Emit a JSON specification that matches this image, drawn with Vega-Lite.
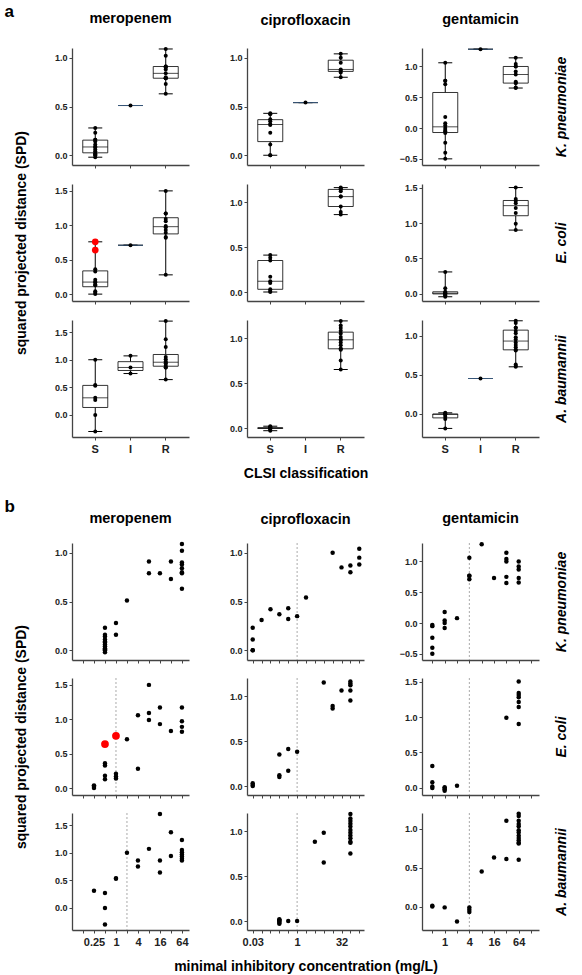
{
"$schema":"https://vega.github.io/schema/vega-lite/v6.json",
"padding":{"left":4,"top":3,"right":4,"bottom":1},
"data":{"name":"d"},
"datasets":{
"d":[
{"kind":"bp","sp":"Kp","drug":"CIP","bp":1},
{"sp":"Kp","drug":"MEM","mic":0.5,"spd":0.23,"cls":"S"},{"sp":"Kp","drug":"MEM","mic":0.5,"spd":0.16,"cls":"S"},{"sp":"Kp","drug":"MEM","mic":0.5,"spd":0.14,"cls":"S"},{"sp":"Kp","drug":"MEM","mic":0.5,"spd":0.11,"cls":"S"},{"sp":"Kp","drug":"MEM","mic":0.5,"spd":0.09,"cls":"S"},{"sp":"Kp","drug":"MEM","mic":0.5,"spd":0.08,"cls":"S"},{"sp":"Kp","drug":"MEM","mic":0.5,"spd":0.06,"cls":"S"},{"sp":"Kp","drug":"MEM","mic":0.5,"spd":0.04,"cls":"S"},{"sp":"Kp","drug":"MEM","mic":0.5,"spd":0.02,"cls":"S"},{"sp":"Kp","drug":"MEM","mic":0.5,"spd":0.01,"cls":"S"},{"sp":"Kp","drug":"MEM","mic":0.5,"spd":0.0,"cls":"S"},{"sp":"Kp","drug":"MEM","mic":0.5,"spd":-0.02,"cls":"S"},
{"sp":"Kp","drug":"MEM","mic":1,"spd":0.28,"cls":"S"},{"sp":"Kp","drug":"MEM","mic":1,"spd":0.16,"cls":"S"},
{"sp":"Kp","drug":"MEM","mic":2,"spd":0.51,"cls":"I"},
{"sp":"Kp","drug":"MEM","mic":8,"spd":0.91,"cls":"R"},{"sp":"Kp","drug":"MEM","mic":8,"spd":0.79,"cls":"R"},{"sp":"Kp","drug":"MEM","mic":16,"spd":0.79,"cls":"R"},{"sp":"Kp","drug":"MEM","mic":32,"spd":0.91,"cls":"R"},{"sp":"Kp","drug":"MEM","mic":32,"spd":0.73,"cls":"R"},
{"sp":"Kp","drug":"MEM","mic":64,"spd":1.09,"cls":"R"},{"sp":"Kp","drug":"MEM","mic":64,"spd":1.02,"cls":"R"},{"sp":"Kp","drug":"MEM","mic":64,"spd":0.9,"cls":"R"},{"sp":"Kp","drug":"MEM","mic":64,"spd":0.88,"cls":"R"},{"sp":"Kp","drug":"MEM","mic":64,"spd":0.84,"cls":"R"},{"sp":"Kp","drug":"MEM","mic":64,"spd":0.8,"cls":"R"},{"sp":"Kp","drug":"MEM","mic":64,"spd":0.79,"cls":"R"},{"sp":"Kp","drug":"MEM","mic":64,"spd":0.63,"cls":"R"},
{"sp":"Kp","drug":"CIP","mic":0.03125,"spd":0.23,"cls":"S"},{"sp":"Kp","drug":"CIP","mic":0.03125,"spd":0.11,"cls":"S"},{"sp":"Kp","drug":"CIP","mic":0.03125,"spd":0.0,"cls":"S"},{"sp":"Kp","drug":"CIP","mic":0.03125,"spd":0.0,"cls":"S"},{"sp":"Kp","drug":"CIP","mic":0.0625,"spd":0.31,"cls":"S"},{"sp":"Kp","drug":"CIP","mic":0.125,"spd":0.42,"cls":"S"},{"sp":"Kp","drug":"CIP","mic":0.25,"spd":0.37,"cls":"S"},{"sp":"Kp","drug":"CIP","mic":0.5,"spd":0.43,"cls":"S"},{"sp":"Kp","drug":"CIP","mic":0.5,"spd":0.32,"cls":"S"},{"sp":"Kp","drug":"CIP","mic":1,"spd":0.35,"cls":"S"},
{"sp":"Kp","drug":"CIP","mic":2,"spd":0.54,"cls":"I"},
{"sp":"Kp","drug":"CIP","mic":16,"spd":1.0,"cls":"R"},{"sp":"Kp","drug":"CIP","mic":32,"spd":0.85,"cls":"R"},{"sp":"Kp","drug":"CIP","mic":64,"spd":0.87,"cls":"R"},{"sp":"Kp","drug":"CIP","mic":64,"spd":0.8,"cls":"R"},{"sp":"Kp","drug":"CIP","mic":128,"spd":1.04,"cls":"R"},{"sp":"Kp","drug":"CIP","mic":128,"spd":0.95,"cls":"R"},{"sp":"Kp","drug":"CIP","mic":128,"spd":0.88,"cls":"R"},
{"sp":"Kp","drug":"GEN","mic":0.5,"spd":-0.03,"cls":"S"},{"sp":"Kp","drug":"GEN","mic":0.5,"spd":-0.05,"cls":"S"},{"sp":"Kp","drug":"GEN","mic":0.5,"spd":-0.24,"cls":"S"},{"sp":"Kp","drug":"GEN","mic":0.5,"spd":-0.4,"cls":"S"},{"sp":"Kp","drug":"GEN","mic":0.5,"spd":-0.5,"cls":"S"},
{"sp":"Kp","drug":"GEN","mic":1,"spd":0.18,"cls":"S"},{"sp":"Kp","drug":"GEN","mic":1,"spd":0.04,"cls":"S"},{"sp":"Kp","drug":"GEN","mic":1,"spd":0.0,"cls":"S"},{"sp":"Kp","drug":"GEN","mic":1,"spd":-0.08,"cls":"S"},{"sp":"Kp","drug":"GEN","mic":2,"spd":0.08,"cls":"S"},
{"sp":"Kp","drug":"GEN","mic":4,"spd":1.06,"cls":"S"},{"sp":"Kp","drug":"GEN","mic":4,"spd":0.77,"cls":"S"},{"sp":"Kp","drug":"GEN","mic":4,"spd":0.77,"cls":"S"},{"sp":"Kp","drug":"GEN","mic":4,"spd":0.71,"cls":"S"},
{"sp":"Kp","drug":"GEN","mic":8,"spd":1.28,"cls":"I"},
{"sp":"Kp","drug":"GEN","mic":16,"spd":0.73,"cls":"R"},{"sp":"Kp","drug":"GEN","mic":32,"spd":1.14,"cls":"R"},{"sp":"Kp","drug":"GEN","mic":32,"spd":1.04,"cls":"R"},{"sp":"Kp","drug":"GEN","mic":32,"spd":1.0,"cls":"R"},{"sp":"Kp","drug":"GEN","mic":32,"spd":0.75,"cls":"R"},{"sp":"Kp","drug":"GEN","mic":32,"spd":0.65,"cls":"R"},
{"sp":"Kp","drug":"GEN","mic":64,"spd":1.0,"cls":"R"},{"sp":"Kp","drug":"GEN","mic":64,"spd":0.92,"cls":"R"},{"sp":"Kp","drug":"GEN","mic":64,"spd":0.87,"cls":"R"},{"sp":"Kp","drug":"GEN","mic":64,"spd":0.73,"cls":"R"},{"sp":"Kp","drug":"GEN","mic":64,"spd":0.66,"cls":"R"},
{"sp":"Ec","drug":"MEM","mic":0.25,"spd":0.04,"cls":"S"},{"sp":"Ec","drug":"MEM","mic":0.25,"spd":0.02,"cls":"S"},{"sp":"Ec","drug":"MEM","mic":0.25,"spd":0.0,"cls":"S"},
{"sp":"Ec","drug":"MEM","mic":0.5,"spd":0.64,"cls":"S","hl":true},{"sp":"Ec","drug":"MEM","mic":0.5,"spd":0.36,"cls":"S"},{"sp":"Ec","drug":"MEM","mic":0.5,"spd":0.33,"cls":"S"},{"sp":"Ec","drug":"MEM","mic":0.5,"spd":0.18,"cls":"S"},{"sp":"Ec","drug":"MEM","mic":0.5,"spd":0.13,"cls":"S"},
{"sp":"Ec","drug":"MEM","mic":1,"spd":0.76,"cls":"S","hl":true},{"sp":"Ec","drug":"MEM","mic":1,"spd":0.21,"cls":"S"},{"sp":"Ec","drug":"MEM","mic":1,"spd":0.17,"cls":"S"},{"sp":"Ec","drug":"MEM","mic":1,"spd":0.14,"cls":"S"},
{"sp":"Ec","drug":"MEM","mic":2,"spd":0.71,"cls":"I"},
{"sp":"Ec","drug":"MEM","mic":4,"spd":1.06,"cls":"R"},{"sp":"Ec","drug":"MEM","mic":4,"spd":0.28,"cls":"R"},{"sp":"Ec","drug":"MEM","mic":8,"spd":1.5,"cls":"R"},{"sp":"Ec","drug":"MEM","mic":8,"spd":1.09,"cls":"R"},{"sp":"Ec","drug":"MEM","mic":8,"spd":0.99,"cls":"R"},{"sp":"Ec","drug":"MEM","mic":16,"spd":1.17,"cls":"R"},{"sp":"Ec","drug":"MEM","mic":16,"spd":0.93,"cls":"R"},{"sp":"Ec","drug":"MEM","mic":32,"spd":0.83,"cls":"R"},
{"sp":"Ec","drug":"MEM","mic":64,"spd":1.17,"cls":"R"},{"sp":"Ec","drug":"MEM","mic":64,"spd":0.97,"cls":"R"},{"sp":"Ec","drug":"MEM","mic":64,"spd":0.89,"cls":"R"},{"sp":"Ec","drug":"MEM","mic":64,"spd":0.82,"cls":"R"},
{"sp":"Ec","drug":"CIP","mic":0.03125,"spd":0.03,"cls":"S"},{"sp":"Ec","drug":"CIP","mic":0.03125,"spd":0.01,"cls":"S"},{"sp":"Ec","drug":"CIP","mic":0.03125,"spd":0.0,"cls":"S"},{"sp":"Ec","drug":"CIP","mic":0.25,"spd":0.35,"cls":"S"},{"sp":"Ec","drug":"CIP","mic":0.25,"spd":0.12,"cls":"S"},{"sp":"Ec","drug":"CIP","mic":0.25,"spd":0.1,"cls":"S"},{"sp":"Ec","drug":"CIP","mic":0.5,"spd":0.41,"cls":"S"},{"sp":"Ec","drug":"CIP","mic":0.5,"spd":0.17,"cls":"S"},{"sp":"Ec","drug":"CIP","mic":1,"spd":0.38,"cls":"S"},
{"sp":"Ec","drug":"CIP","mic":8,"spd":1.15,"cls":"R"},{"sp":"Ec","drug":"CIP","mic":16,"spd":0.89,"cls":"R"},{"sp":"Ec","drug":"CIP","mic":16,"spd":0.86,"cls":"R"},{"sp":"Ec","drug":"CIP","mic":32,"spd":1.06,"cls":"R"},{"sp":"Ec","drug":"CIP","mic":64,"spd":1.16,"cls":"R"},{"sp":"Ec","drug":"CIP","mic":64,"spd":1.14,"cls":"R"},{"sp":"Ec","drug":"CIP","mic":64,"spd":1.12,"cls":"R"},{"sp":"Ec","drug":"CIP","mic":64,"spd":1.06,"cls":"R"},{"sp":"Ec","drug":"CIP","mic":64,"spd":0.95,"cls":"R"},
{"sp":"Ec","drug":"GEN","mic":0.5,"spd":0.31,"cls":"S"},{"sp":"Ec","drug":"GEN","mic":0.5,"spd":0.08,"cls":"S"},{"sp":"Ec","drug":"GEN","mic":0.5,"spd":0.02,"cls":"S"},{"sp":"Ec","drug":"GEN","mic":0.5,"spd":0.0,"cls":"S"},{"sp":"Ec","drug":"GEN","mic":1,"spd":0.01,"cls":"S"},{"sp":"Ec","drug":"GEN","mic":1,"spd":0.0,"cls":"S"},{"sp":"Ec","drug":"GEN","mic":1,"spd":-0.02,"cls":"S"},{"sp":"Ec","drug":"GEN","mic":1,"spd":-0.04,"cls":"S"},{"sp":"Ec","drug":"GEN","mic":2,"spd":0.03,"cls":"S"},
{"sp":"Ec","drug":"GEN","mic":32,"spd":0.99,"cls":"R"},{"sp":"Ec","drug":"GEN","mic":64,"spd":1.5,"cls":"R"},{"sp":"Ec","drug":"GEN","mic":64,"spd":1.34,"cls":"R"},{"sp":"Ec","drug":"GEN","mic":64,"spd":1.31,"cls":"R"},{"sp":"Ec","drug":"GEN","mic":64,"spd":1.28,"cls":"R"},{"sp":"Ec","drug":"GEN","mic":64,"spd":1.21,"cls":"R"},{"sp":"Ec","drug":"GEN","mic":64,"spd":1.14,"cls":"R"},{"sp":"Ec","drug":"GEN","mic":64,"spd":0.9,"cls":"R"},
{"sp":"Ab","drug":"MEM","mic":0.25,"spd":0.31,"cls":"S"},{"sp":"Ab","drug":"MEM","mic":0.5,"spd":0.27,"cls":"S"},{"sp":"Ab","drug":"MEM","mic":0.5,"spd":0.0,"cls":"S"},{"sp":"Ab","drug":"MEM","mic":0.5,"spd":-0.3,"cls":"S"},{"sp":"Ab","drug":"MEM","mic":1,"spd":0.54,"cls":"S"},{"sp":"Ab","drug":"MEM","mic":1,"spd":0.53,"cls":"S"},{"sp":"Ab","drug":"MEM","mic":2,"spd":1.0,"cls":"S"},
{"sp":"Ab","drug":"MEM","mic":4,"spd":0.86,"cls":"I"},{"sp":"Ab","drug":"MEM","mic":4,"spd":0.75,"cls":"I"},{"sp":"Ab","drug":"MEM","mic":8,"spd":1.07,"cls":"I"},
{"sp":"Ab","drug":"MEM","mic":16,"spd":1.7,"cls":"R"},{"sp":"Ab","drug":"MEM","mic":16,"spd":0.86,"cls":"R"},{"sp":"Ab","drug":"MEM","mic":16,"spd":0.64,"cls":"R"},{"sp":"Ab","drug":"MEM","mic":32,"spd":1.37,"cls":"R"},{"sp":"Ab","drug":"MEM","mic":32,"spd":0.94,"cls":"R"},
{"sp":"Ab","drug":"MEM","mic":64,"spd":1.23,"cls":"R"},{"sp":"Ab","drug":"MEM","mic":64,"spd":1.05,"cls":"R"},{"sp":"Ab","drug":"MEM","mic":64,"spd":1.01,"cls":"R"},{"sp":"Ab","drug":"MEM","mic":64,"spd":0.97,"cls":"R"},{"sp":"Ab","drug":"MEM","mic":64,"spd":0.93,"cls":"R"},{"sp":"Ab","drug":"MEM","mic":64,"spd":0.89,"cls":"R"},{"sp":"Ab","drug":"MEM","mic":64,"spd":0.86,"cls":"R"},
{"sp":"Ab","drug":"CIP","mic":0.25,"spd":0.02,"cls":"S"},{"sp":"Ab","drug":"CIP","mic":0.25,"spd":0.01,"cls":"S"},{"sp":"Ab","drug":"CIP","mic":0.25,"spd":0.0,"cls":"S"},{"sp":"Ab","drug":"CIP","mic":0.25,"spd":0.0,"cls":"S"},{"sp":"Ab","drug":"CIP","mic":0.25,"spd":-0.02,"cls":"S"},{"sp":"Ab","drug":"CIP","mic":0.25,"spd":-0.03,"cls":"S"},{"sp":"Ab","drug":"CIP","mic":0.5,"spd":0.0,"cls":"S"},{"sp":"Ab","drug":"CIP","mic":1,"spd":0.0,"cls":"S"},
{"sp":"Ab","drug":"CIP","mic":4,"spd":0.88,"cls":"R"},{"sp":"Ab","drug":"CIP","mic":8,"spd":0.98,"cls":"R"},{"sp":"Ab","drug":"CIP","mic":8,"spd":0.65,"cls":"R"},
{"sp":"Ab","drug":"CIP","mic":64,"spd":1.19,"cls":"R"},{"sp":"Ab","drug":"CIP","mic":64,"spd":1.14,"cls":"R"},{"sp":"Ab","drug":"CIP","mic":64,"spd":1.11,"cls":"R"},{"sp":"Ab","drug":"CIP","mic":64,"spd":1.08,"cls":"R"},{"sp":"Ab","drug":"CIP","mic":64,"spd":1.05,"cls":"R"},{"sp":"Ab","drug":"CIP","mic":64,"spd":1.01,"cls":"R"},{"sp":"Ab","drug":"CIP","mic":64,"spd":0.98,"cls":"R"},{"sp":"Ab","drug":"CIP","mic":64,"spd":0.95,"cls":"R"},{"sp":"Ab","drug":"CIP","mic":64,"spd":0.92,"cls":"R"},{"sp":"Ab","drug":"CIP","mic":64,"spd":0.88,"cls":"R"},{"sp":"Ab","drug":"CIP","mic":64,"spd":0.87,"cls":"R"},{"sp":"Ab","drug":"CIP","mic":64,"spd":0.75,"cls":"R"},
{"sp":"Ab","drug":"GEN","mic":0.5,"spd":0.01,"cls":"S"},{"sp":"Ab","drug":"GEN","mic":0.5,"spd":0.0,"cls":"S"},{"sp":"Ab","drug":"GEN","mic":1,"spd":-0.01,"cls":"S"},{"sp":"Ab","drug":"GEN","mic":2,"spd":-0.19,"cls":"S"},{"sp":"Ab","drug":"GEN","mic":4,"spd":-0.01,"cls":"S"},{"sp":"Ab","drug":"GEN","mic":4,"spd":-0.04,"cls":"S"},{"sp":"Ab","drug":"GEN","mic":4,"spd":-0.07,"cls":"S"},
{"sp":"Ab","drug":"GEN","mic":8,"spd":0.45,"cls":"I"},
{"sp":"Ab","drug":"GEN","mic":16,"spd":0.63,"cls":"R"},{"sp":"Ab","drug":"GEN","mic":32,"spd":1.1,"cls":"R"},{"sp":"Ab","drug":"GEN","mic":32,"spd":0.61,"cls":"R"},
{"sp":"Ab","drug":"GEN","mic":64,"spd":1.19,"cls":"R"},{"sp":"Ab","drug":"GEN","mic":64,"spd":1.16,"cls":"R"},{"sp":"Ab","drug":"GEN","mic":64,"spd":1.1,"cls":"R"},{"sp":"Ab","drug":"GEN","mic":64,"spd":1.06,"cls":"R"},{"sp":"Ab","drug":"GEN","mic":64,"spd":1.03,"cls":"R"},{"sp":"Ab","drug":"GEN","mic":64,"spd":0.98,"cls":"R"},{"sp":"Ab","drug":"GEN","mic":64,"spd":0.95,"cls":"R"},{"sp":"Ab","drug":"GEN","mic":64,"spd":0.91,"cls":"R"},{"sp":"Ab","drug":"GEN","mic":64,"spd":0.88,"cls":"R"},{"sp":"Ab","drug":"GEN","mic":64,"spd":0.85,"cls":"R"},{"sp":"Ab","drug":"GEN","mic":64,"spd":0.82,"cls":"R"},{"sp":"Ab","drug":"GEN","mic":64,"spd":0.81,"cls":"R"},{"sp":"Ab","drug":"GEN","mic":64,"spd":0.6,"cls":"R"}
],
"bp":[
{"sp":"Kp","drug":"MEM","bp":1},{"sp":"Ec","drug":"MEM","bp":1},{"sp":"Ab","drug":"MEM","bp":2},
{"sp":"Kp","drug":"CIP","bp":1},{"sp":"Ec","drug":"CIP","bp":1},{"sp":"Ab","drug":"CIP","bp":1},
{"sp":"Kp","drug":"GEN","bp":4},{"sp":"Ec","drug":"GEN","bp":4},{"sp":"Ab","drug":"GEN","bp":4}
]
},
"spacing":18,
"vconcat":[
{"title":{"text":"a","anchor":"start","fontSize":17,"offset":-10,"dx":-10},
 "columns":3,"bounds":"flush","spacing":{"row":19,"column":58},
 "concat":[
  {"width":117,"height":117,"title":{"text":"meropenem","offset":20},"transform":[{"filter":"datum.sp=='Kp'&&datum.drug=='MEM'"}],
   "encoding":{"x":{"field":"cls","type":"nominal","scale":{"domain":["S","I","R"],"paddingInner":0,"paddingOuter":0.16},"axis":{"title":null,"labels":false}},
    "y":{"field":"spd","type":"quantitative","scale":{"domain":[-0.1,1.1],"nice":false,"zero":false},"axis":{"title":null,"values":[-0.5,0,0.5,1,1.5],"format":".1f"}}},
   "layer":[
    {"mark":{"type":"boxplot","extent":"min-max","size":25,"box":{"fill":"white","stroke":"black","strokeWidth":0.8},"median":{"color":"black","strokeWidth":1},"rule":{"color":"black","strokeWidth":1},"ticks":{"color":"black","size":14}}},
    {"mark":{"type":"circle","color":"black","size":16,"opacity":1}}]},
  {"width":117,"height":117,"title":{"text":"ciprofloxacin","offset":20},"transform":[{"filter":"datum.sp=='Kp'&&datum.drug=='CIP'&&datum.kind!='bp'"}],
   "encoding":{"x":{"field":"cls","type":"nominal","scale":{"domain":["S","I","R"],"paddingInner":0,"paddingOuter":0.16},"axis":{"title":null,"labels":false}},
    "y":{"field":"spd","type":"quantitative","scale":{"domain":[-0.1,1.1],"nice":false,"zero":false},"axis":{"title":null,"values":[-0.5,0,0.5,1,1.5],"format":".1f"}}},
   "layer":[
    {"mark":{"type":"boxplot","extent":"min-max","size":25,"box":{"fill":"white","stroke":"black","strokeWidth":0.8},"median":{"color":"black","strokeWidth":1},"rule":{"color":"black","strokeWidth":1},"ticks":{"color":"black","size":14}}},
    {"mark":{"type":"circle","color":"black","size":16,"opacity":1}}]},
  {"width":117,"height":117,"title":{"text":"gentamicin","offset":20},"transform":[{"filter":"datum.sp=='Kp'&&datum.drug=='GEN'"}],
   "encoding":{"x":{"field":"cls","type":"nominal","scale":{"domain":["S","I","R"],"paddingInner":0,"paddingOuter":0.16},"axis":{"title":null,"labels":false}}},
   "layer":[
    {"mark":{"type":"boxplot","extent":"min-max","size":25,"box":{"fill":"white","stroke":"black","strokeWidth":0.8},"median":{"color":"black","strokeWidth":1},"rule":{"color":"black","strokeWidth":1},"ticks":{"color":"black","size":14}},
     "encoding":{"y":{"field":"spd","type":"quantitative","scale":{"domain":[-0.6,1.3],"nice":false,"zero":false},"axis":{"title":null,"values":[-0.5,0,0.5,1,1.5],"format":".1f"}}}},
    {"mark":{"type":"circle","color":"black","size":16,"opacity":1},
     "encoding":{"y":{"field":"spd","type":"quantitative","scale":{"domain":[-0.6,1.3],"nice":false,"zero":false},"axis":{"orient":"right","title":"K. pneumoniae","labels":false,"ticks":false,"domain":false,"titleAngle":270,"titleBaseline":"top","titlePadding":15,"titleFontStyle":"italic"}}}}],
   "resolve":{"scale":{"y":"independent"}}},
  {"width":117,"height":117,"transform":[{"filter":"datum.sp=='Ec'&&datum.drug=='MEM'"}],
   "encoding":{"x":{"field":"cls","type":"nominal","scale":{"domain":["S","I","R"],"paddingInner":0,"paddingOuter":0.16},"axis":{"title":null,"labels":false}},
    "y":{"field":"spd","type":"quantitative","scale":{"domain":[-0.1,1.6],"nice":false,"zero":false},"axis":{"title":"squared projected distance (SPD)","values":[-0.5,0,0.5,1,1.5],"format":".1f"}}},
   "layer":[
    {"mark":{"type":"boxplot","extent":"min-max","size":25,"box":{"fill":"white","stroke":"black","strokeWidth":0.8},"median":{"color":"black","strokeWidth":1},"rule":{"color":"black","strokeWidth":1},"ticks":{"color":"black","size":14}}},
    {"mark":{"type":"circle","color":"black","size":16,"opacity":1}},
    {"transform":[{"filter":"datum.hl"}],"mark":{"type":"circle","color":"#ff0000","size":45,"opacity":1}}]},
  {"width":117,"height":117,"transform":[{"filter":"datum.sp=='Ec'&&datum.drug=='CIP'"}],
   "encoding":{"x":{"field":"cls","type":"nominal","scale":{"domain":["S","I","R"],"paddingInner":0,"paddingOuter":0.16},"axis":{"title":null,"labels":false}},
    "y":{"field":"spd","type":"quantitative","scale":{"domain":[-0.1,1.2],"nice":false,"zero":false},"axis":{"title":null,"values":[-0.5,0,0.5,1,1.5],"format":".1f"}}},
   "layer":[
    {"mark":{"type":"boxplot","extent":"min-max","size":25,"box":{"fill":"white","stroke":"black","strokeWidth":0.8},"median":{"color":"black","strokeWidth":1},"rule":{"color":"black","strokeWidth":1},"ticks":{"color":"black","size":14}}},
    {"mark":{"type":"circle","color":"black","size":16,"opacity":1}}]},
  {"width":117,"height":117,"transform":[{"filter":"datum.sp=='Ec'&&datum.drug=='GEN'"}],
   "encoding":{"x":{"field":"cls","type":"nominal","scale":{"domain":["S","I","R"],"paddingInner":0,"paddingOuter":0.16},"axis":{"title":null,"labels":false}}},
   "layer":[
    {"mark":{"type":"boxplot","extent":"min-max","size":25,"box":{"fill":"white","stroke":"black","strokeWidth":0.8},"median":{"color":"black","strokeWidth":1},"rule":{"color":"black","strokeWidth":1},"ticks":{"color":"black","size":14}},
     "encoding":{"y":{"field":"spd","type":"quantitative","scale":{"domain":[-0.1,1.55],"nice":false,"zero":false},"axis":{"title":null,"values":[-0.5,0,0.5,1,1.5],"format":".1f"}}}},
    {"mark":{"type":"circle","color":"black","size":16,"opacity":1},
     "encoding":{"y":{"field":"spd","type":"quantitative","scale":{"domain":[-0.1,1.55],"nice":false,"zero":false},"axis":{"orient":"right","title":"E. coli","labels":false,"ticks":false,"domain":false,"titleAngle":270,"titleBaseline":"top","titlePadding":15,"titleFontStyle":"italic"}}}}],
   "resolve":{"scale":{"y":"independent"}}},
  {"width":117,"height":117,"transform":[{"filter":"datum.sp=='Ab'&&datum.drug=='MEM'"}],
   "encoding":{"x":{"field":"cls","type":"nominal","scale":{"domain":["S","I","R"],"paddingInner":0,"paddingOuter":0.16},"axis":{"title":null}},
    "y":{"field":"spd","type":"quantitative","scale":{"domain":[-0.4,1.72],"nice":false,"zero":false},"axis":{"title":null,"values":[-0.5,0,0.5,1,1.5],"format":".1f"}}},
   "layer":[
    {"mark":{"type":"boxplot","extent":"min-max","size":25,"box":{"fill":"white","stroke":"black","strokeWidth":0.8},"median":{"color":"black","strokeWidth":1},"rule":{"color":"black","strokeWidth":1},"ticks":{"color":"black","size":14}}},
    {"mark":{"type":"circle","color":"black","size":16,"opacity":1}}]},
  {"width":117,"height":117,"transform":[{"filter":"datum.sp=='Ab'&&datum.drug=='CIP'"}],
   "encoding":{"x":{"field":"cls","type":"nominal","scale":{"domain":["S","I","R"],"paddingInner":0,"paddingOuter":0.16},"axis":{"title":"CLSI classification"}},
    "y":{"field":"spd","type":"quantitative","scale":{"domain":[-0.1,1.2],"nice":false,"zero":false},"axis":{"title":null,"values":[-0.5,0,0.5,1,1.5],"format":".1f"}}},
   "layer":[
    {"mark":{"type":"boxplot","extent":"min-max","size":25,"box":{"fill":"white","stroke":"black","strokeWidth":0.8},"median":{"color":"black","strokeWidth":1},"rule":{"color":"black","strokeWidth":1},"ticks":{"color":"black","size":14}}},
    {"mark":{"type":"circle","color":"black","size":16,"opacity":1}}]},
  {"width":117,"height":117,"transform":[{"filter":"datum.sp=='Ab'&&datum.drug=='GEN'"}],
   "encoding":{"x":{"field":"cls","type":"nominal","scale":{"domain":["S","I","R"],"paddingInner":0,"paddingOuter":0.16},"axis":{"title":null}}},
   "layer":[
    {"mark":{"type":"boxplot","extent":"min-max","size":25,"box":{"fill":"white","stroke":"black","strokeWidth":0.8},"median":{"color":"black","strokeWidth":1},"rule":{"color":"black","strokeWidth":1},"ticks":{"color":"black","size":14}},
     "encoding":{"y":{"field":"spd","type":"quantitative","scale":{"domain":[-0.3,1.2],"nice":false,"zero":false},"axis":{"title":null,"values":[-0.5,0,0.5,1,1.5],"format":".1f"}}}},
    {"mark":{"type":"circle","color":"black","size":16,"opacity":1},
     "encoding":{"y":{"field":"spd","type":"quantitative","scale":{"domain":[-0.3,1.2],"nice":false,"zero":false},"axis":{"orient":"right","title":"A. baumannii","labels":false,"ticks":false,"domain":false,"titleAngle":270,"titleBaseline":"top","titlePadding":15,"titleFontStyle":"italic"}}}}],
   "resolve":{"scale":{"y":"independent"}}}
 ]},
{"title":{"text":"b","anchor":"start","fontSize":17,"offset":-5,"dx":-10},
 "columns":3,"bounds":"flush","spacing":{"row":18,"column":58},
 "concat":[
  {"width":117,"height":117,"title":{"text":"meropenem","offset":15},"layer":[
   {"transform":[{"filter":"datum.sp=='Kp'&&datum.drug=='MEM'"}],"mark":{"type":"circle","color":"black","size":20,"opacity":1},
    "encoding":{"x":{"field":"mic","type":"quantitative","scale":{"type":"log","base":2,"domain":[0.0625,100],"nice":false},"axis":{"title":null,"labels":false,"values":[0.125,0.25,0.5,1,2,4,8,16,32,64]}},
     "y":{"field":"spd","type":"quantitative","scale":{"domain":[-0.1,1.1],"nice":false,"zero":false},"axis":{"title":null,"values":[-0.5,0,0.5,1,1.5],"format":".1f"}}}}]},
  {"width":117,"height":117,"title":{"text":"ciprofloxacin","offset":15},"layer":[
   {"transform":[{"filter":"datum.kind=='bp'&&datum.sp=='Kp'&&datum.drug=='CIP'"}],"mark":{"type":"rule","color":"#aaaaaa","strokeDash":[2,2],"strokeWidth":1},"encoding":{"x":{"field":"bp","type":"quantitative","axis":{"title":null}}}},
   {"transform":[{"filter":"datum.sp=='Kp'&&datum.drug=='CIP'&&datum.kind!='bp'"}],"mark":{"type":"circle","color":"black","size":20,"opacity":1},
    "encoding":{"x":{"field":"mic","type":"quantitative","scale":{"type":"log","base":2,"domain":[0.02,185],"nice":false},"axis":{"title":null,"labels":false,"values":[0.03125,0.0625,0.125,0.25,0.5,1,2,4,8,16,32,64,128]}},
     "y":{"field":"spd","type":"quantitative","scale":{"domain":[-0.1,1.1],"nice":false,"zero":false},"axis":{"title":null,"values":[-0.5,0,0.5,1,1.5],"format":".1f"}}}}]},
  {"width":117,"height":117,"title":{"text":"gentamicin","offset":15},"layer":[
   {"data":{"name":"bp"},"transform":[{"filter":"datum.sp=='Kp'&&datum.drug=='GEN'"}],"mark":{"type":"rule","color":"#aaaaaa","strokeDash":[2,2],"strokeWidth":1},"encoding":{"x":{"field":"bp","type":"quantitative","axis":{"title":null}}}},
   {"transform":[{"filter":"datum.sp=='Kp'&&datum.drug=='GEN'&&datum.cls=='S'"}],"mark":{"type":"circle","color":"black","size":20,"opacity":1},
    "encoding":{"x":{"field":"mic","type":"quantitative","scale":{"type":"log","base":2,"domain":[0.28,200],"nice":false},"axis":{"title":null,"labels":false,"values":[0.5,1,2,4,8,16,32,64,128]}},
     "y":{"field":"spd","type":"quantitative","scale":{"domain":[-0.6,1.3],"nice":false,"zero":false},"axis":{"title":null,"values":[-0.5,0,0.5,1,1.5],"format":".1f"}}}},
   {"transform":[{"filter":"datum.sp=='Kp'&&datum.drug=='GEN'&&datum.cls!='S'"}],"mark":{"type":"circle","color":"black","size":20,"opacity":1},
    "encoding":{"x":{"field":"mic","type":"quantitative","axis":{"title":null}},
     "y":{"field":"spd","type":"quantitative","scale":{"domain":[-0.6,1.3],"nice":false,"zero":false},"axis":{"orient":"right","title":"K. pneumoniae","labels":false,"ticks":false,"domain":false,"titleAngle":270,"titleBaseline":"top","titlePadding":15,"titleFontStyle":"italic"}}}}],
   "resolve":{"scale":{"y":"independent"}}},
  {"width":117,"height":117,"layer":[
   {"data":{"name":"bp"},"transform":[{"filter":"datum.sp=='Ec'&&datum.drug=='MEM'"}],"mark":{"type":"rule","color":"#aaaaaa","strokeDash":[2,2],"strokeWidth":1},"encoding":{"x":{"field":"bp","type":"quantitative","axis":{"title":null}}}},
   {"transform":[{"filter":"datum.sp=='Ec'&&datum.drug=='MEM'"}],"mark":{"type":"circle","color":"black","size":20,"opacity":1},
    "encoding":{"x":{"field":"mic","type":"quantitative","scale":{"type":"log","base":2,"domain":[0.0625,100],"nice":false},"axis":{"title":null,"labels":false,"values":[0.125,0.25,0.5,1,2,4,8,16,32,64]}},
     "y":{"field":"spd","type":"quantitative","scale":{"domain":[-0.1,1.6],"nice":false,"zero":false},"axis":{"title":"squared projected distance (SPD)","values":[-0.5,0,0.5,1,1.5],"format":".1f"}}}},
   {"transform":[{"filter":"datum.sp=='Ec'&&datum.drug=='MEM'&&datum.hl"}],"mark":{"type":"circle","color":"#ff0000","size":60,"opacity":1},
    "encoding":{"x":{"field":"mic","type":"quantitative","scale":{"type":"log","base":2,"domain":[0.0625,100],"nice":false},"axis":{"title":null,"labels":false,"values":[0.125,0.25,0.5,1,2,4,8,16,32,64]}},
     "y":{"field":"spd","type":"quantitative","scale":{"domain":[-0.1,1.6],"nice":false,"zero":false},"axis":{"title":"squared projected distance (SPD)","values":[-0.5,0,0.5,1,1.5],"format":".1f"}}}}]},
  {"width":117,"height":117,"layer":[
   {"data":{"name":"bp"},"transform":[{"filter":"datum.sp=='Ec'&&datum.drug=='CIP'"}],"mark":{"type":"rule","color":"#aaaaaa","strokeDash":[2,2],"strokeWidth":1},"encoding":{"x":{"field":"bp","type":"quantitative","axis":{"title":null}}}},
   {"transform":[{"filter":"datum.sp=='Ec'&&datum.drug=='CIP'"}],"mark":{"type":"circle","color":"black","size":20,"opacity":1},
    "encoding":{"x":{"field":"mic","type":"quantitative","scale":{"type":"log","base":2,"domain":[0.02,185],"nice":false},"axis":{"title":null,"labels":false,"values":[0.03125,0.0625,0.125,0.25,0.5,1,2,4,8,16,32,64,128]}},
     "y":{"field":"spd","type":"quantitative","scale":{"domain":[-0.1,1.2],"nice":false,"zero":false},"axis":{"title":null,"values":[-0.5,0,0.5,1,1.5],"format":".1f"}}}}]},
  {"width":117,"height":117,"layer":[
   {"data":{"name":"bp"},"transform":[{"filter":"datum.sp=='Ec'&&datum.drug=='GEN'"}],"mark":{"type":"rule","color":"#aaaaaa","strokeDash":[2,2],"strokeWidth":1},"encoding":{"x":{"field":"bp","type":"quantitative","axis":{"title":null}}}},
   {"transform":[{"filter":"datum.sp=='Ec'&&datum.drug=='GEN'&&datum.cls=='S'"}],"mark":{"type":"circle","color":"black","size":20,"opacity":1},
    "encoding":{"x":{"field":"mic","type":"quantitative","scale":{"type":"log","base":2,"domain":[0.28,200],"nice":false},"axis":{"title":null,"labels":false,"values":[0.5,1,2,4,8,16,32,64,128]}},
     "y":{"field":"spd","type":"quantitative","scale":{"domain":[-0.1,1.55],"nice":false,"zero":false},"axis":{"title":null,"values":[-0.5,0,0.5,1,1.5],"format":".1f"}}}},
   {"transform":[{"filter":"datum.sp=='Ec'&&datum.drug=='GEN'&&datum.cls!='S'"}],"mark":{"type":"circle","color":"black","size":20,"opacity":1},
    "encoding":{"x":{"field":"mic","type":"quantitative","axis":{"title":null}},
     "y":{"field":"spd","type":"quantitative","scale":{"domain":[-0.1,1.55],"nice":false,"zero":false},"axis":{"orient":"right","title":"E. coli","labels":false,"ticks":false,"domain":false,"titleAngle":270,"titleBaseline":"top","titlePadding":15,"titleFontStyle":"italic"}}}}],
   "resolve":{"scale":{"y":"independent"}}},
  {"width":117,"height":117,"layer":[
   {"data":{"name":"bp"},"transform":[{"filter":"datum.sp=='Ab'&&datum.drug=='MEM'"}],"mark":{"type":"rule","color":"#aaaaaa","strokeDash":[2,2],"strokeWidth":1},"encoding":{"x":{"field":"bp","type":"quantitative","axis":{"title":null}}}},
   {"transform":[{"filter":"datum.sp=='Ab'&&datum.drug=='MEM'"}],"mark":{"type":"circle","color":"black","size":20,"opacity":1},
    "encoding":{"x":{"field":"mic","type":"quantitative","scale":{"type":"log","base":2,"domain":[0.0625,100],"nice":false},"axis":{"title":null,"values":[0.125,0.25,0.5,1,2,4,8,16,32,64],"labelExpr":"indexof([0.25,1,4,16,64],datum.value)>=0?datum.value+'':''"}},
     "y":{"field":"spd","type":"quantitative","scale":{"domain":[-0.4,1.72],"nice":false,"zero":false},"axis":{"title":null,"values":[-0.5,0,0.5,1,1.5],"format":".1f"}}}}]},
  {"width":117,"height":117,"layer":[
   {"data":{"name":"bp"},"transform":[{"filter":"datum.sp=='Ab'&&datum.drug=='CIP'"}],"mark":{"type":"rule","color":"#aaaaaa","strokeDash":[2,2],"strokeWidth":1},"encoding":{"x":{"field":"bp","type":"quantitative","axis":{"title":"minimal inhibitory concentration (mg/L)"}}}},
   {"transform":[{"filter":"datum.sp=='Ab'&&datum.drug=='CIP'"}],"mark":{"type":"circle","color":"black","size":20,"opacity":1},
    "encoding":{"x":{"field":"mic","type":"quantitative","scale":{"type":"log","base":2,"domain":[0.02,185],"nice":false},"axis":{"title":"minimal inhibitory concentration (mg/L)","values":[0.03125,0.0625,0.125,0.25,0.5,1,2,4,8,16,32,64,128],"labelExpr":"datum.value==0.03125?'0.03':(datum.value==1||datum.value==32)?datum.value+'':''"}},
     "y":{"field":"spd","type":"quantitative","scale":{"domain":[-0.1,1.2],"nice":false,"zero":false},"axis":{"title":null,"values":[-0.5,0,0.5,1,1.5],"format":".1f"}}}}]},
  {"width":117,"height":117,"layer":[
   {"data":{"name":"bp"},"transform":[{"filter":"datum.sp=='Ab'&&datum.drug=='GEN'"}],"mark":{"type":"rule","color":"#aaaaaa","strokeDash":[2,2],"strokeWidth":1},"encoding":{"x":{"field":"bp","type":"quantitative","axis":{"title":null}}}},
   {"transform":[{"filter":"datum.sp=='Ab'&&datum.drug=='GEN'&&datum.cls=='S'"}],"mark":{"type":"circle","color":"black","size":20,"opacity":1},
    "encoding":{"x":{"field":"mic","type":"quantitative","scale":{"type":"log","base":2,"domain":[0.28,200],"nice":false},"axis":{"title":null,"values":[0.5,1,2,4,8,16,32,64,128],"labelExpr":"indexof([1,4,16,64],datum.value)>=0?datum.value+'':''"}},
     "y":{"field":"spd","type":"quantitative","scale":{"domain":[-0.3,1.2],"nice":false,"zero":false},"axis":{"title":null,"values":[-0.5,0,0.5,1,1.5],"format":".1f"}}}},
   {"transform":[{"filter":"datum.sp=='Ab'&&datum.drug=='GEN'&&datum.cls!='S'"}],"mark":{"type":"circle","color":"black","size":20,"opacity":1},
    "encoding":{"x":{"field":"mic","type":"quantitative","axis":{"title":null}},
     "y":{"field":"spd","type":"quantitative","scale":{"domain":[-0.3,1.2],"nice":false,"zero":false},"axis":{"orient":"right","title":"A. baumannii","labels":false,"ticks":false,"domain":false,"titleAngle":270,"titleBaseline":"top","titlePadding":15,"titleFontStyle":"italic"}}}}],
   "resolve":{"scale":{"y":"independent"}}}
 ]}
],
"config":{
 "font":"Liberation Sans",
 "view":{"stroke":null},
 "axis":{"grid":false,"domain":true,"ticks":true,"zindex":1,"domainColor":"#444444","domainWidth":1.3,"tickColor":"#444444","tickSize":3,"tickWidth":1,"labelFontWeight":"bold","labelColor":"#222222","labelFontSize":9,"labelPadding":2,"labelOverlap":false,"labelFlush":false,"titleFontSize":14,"titleFontWeight":"bold","titleColor":"black"},
 "axisQuantitative":{"domain":true,"ticks":true},
 "axisX":{"labelFontSize":11,"labelPadding":3,"labelAngle":0,"titlePadding":12},
 "axisY":{"titlePadding":26},
 "title":{"fontSize":14.5,"fontWeight":"bold","color":"black"}
}
}
